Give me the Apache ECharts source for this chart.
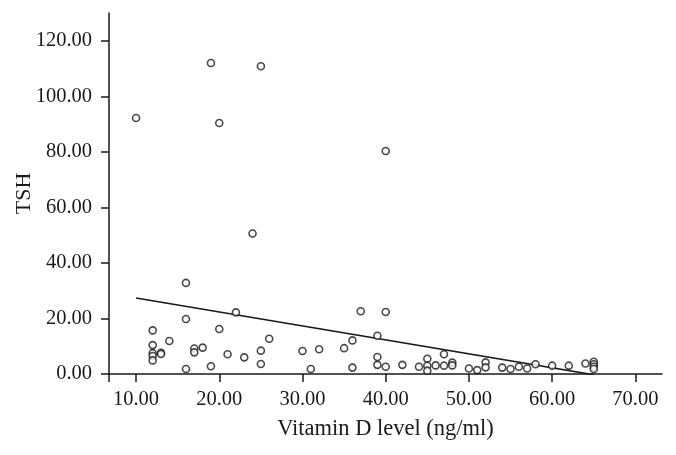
<!DOCTYPE html>
<html>
<head>
<meta charset="utf-8">
<script src="https://cdn.jsdelivr.net/npm/echarts@6/dist/echarts.min.js"></script>
<style>html,body{margin:0;padding:0;background:#fff}#c{width:676px;height:455px}</style>
</head>
<body>
<div id="c"></div>
<script>
// Vitamin D level (ng/ml) for each subject
const vitaminD = [10,12,12,12,12,12,13,13,14,16,16,16,17,17,18,19,19,20,20,21,22,23,24,25,25,25,26,
  30,31,32,35,36,36,37,39,39,39,40,40,40,42,44,45,45,45,46,47,47,48,48,50,51,52,52,54,55,56,57,58,
  60,62,64,65,65,65,65];
// TSH for each subject (same order)
const tsh = [92.2,15.7,10.4,7.5,6.5,4.9,7.6,7.2,11.9,32.8,19.8,1.8,9.2,7.8,9.5,112.0,2.8,90.4,16.2,7.1,22.2,6.0,50.6,110.8,8.4,3.6,12.7,
  8.3,1.8,8.9,9.3,12.1,2.3,22.6,13.8,6.1,3.3,80.3,22.3,2.6,3.3,2.6,5.5,3.0,1.2,3.1,7.1,3.0,4.1,3.1,2.0,1.4,4.2,2.4,2.3,1.8,2.6,2.0,3.5,
  3.0,3.0,3.8,4.4,3.5,2.6,1.8];
const xTicks = [10,20,30,40,50,60,70];
const yTicks = [0,20,40,60,80,100,120];

// least-squares fit line from the data
const n = vitaminD.length;
const mx = vitaminD.reduce((a,b)=>a+b,0)/n;
const my = tsh.reduce((a,b)=>a+b,0)/n;
let sxy = 0, sxx = 0;
for (let i=0;i<n;i++){ sxy += (vitaminD[i]-mx)*(tsh[i]-my); sxx += (vitaminD[i]-mx)**2; }
const slope = sxy/sxx, icpt = my - slope*mx;
const xLo = Math.min(...vitaminD), xHi = Math.max(...vitaminD);
const fit = [[xLo, icpt+slope*xLo],[xHi, icpt+slope*xHi]];

const XMIN = 6.75, XMAX = 73.2, YMIN = 0, YMAX = 130;
const font = '"Liberation Serif", "DejaVu Serif", serif';
const ink = '#1a1a1a';

const chart = echarts.init(document.getElementById('c'), null, {renderer:'canvas'});
chart.setOption({
  animation:false,
  backgroundColor:'#fff',
  grid:{left:109, right:14, top:13, bottom:81, containLabel:false, outerBoundsMode:'none'},
  xAxis:{
    type:'value', min:XMIN, max:XMAX,
    name:'Vitamin D level (ng/ml)', nameLocation:'middle', nameGap:44, nameMoveOverlap:false,
    nameTextStyle:{fontFamily:font, fontSize:22.5, color:ink},
    axisLine:{lineStyle:{color:ink, width:1.5}},
    axisTick:{show:true, length:8, lineStyle:{color:ink, width:1.5}, customValues:[XMIN].concat(xTicks)},
    axisLabel:{fontFamily:font, fontSize:20.5, color:ink, margin:15,
      customValues:xTicks, formatter:v=>v.toFixed(2)},
    splitLine:{show:false}
  },
  yAxis:{
    type:'value', min:YMIN, max:YMAX,
    name:'TSH', nameLocation:'middle', nameGap:74, nameRotate:90, nameMoveOverlap:false,
    nameTextStyle:{fontFamily:font, fontSize:22, color:ink},
    axisLine:{lineStyle:{color:ink, width:1.5}},
    axisTick:{show:true, length:8, lineStyle:{color:ink, width:1.5}, customValues:yTicks},
    axisLabel:{fontFamily:font, fontSize:20.5, color:ink, margin:17,
      customValues:yTicks, formatter:v=>v.toFixed(2)},
    splitLine:{show:false}
  },
  series:[
    {type:'line', data:fit, symbol:'none', clip:true, silent:true,
      lineStyle:{color:ink, width:1.5}, z:1},
    {type:'scatter', data:vitaminD.map((x,i)=>[x,tsh[i]]), symbol:'circle', symbolSize:7,
      itemStyle:{color:'#fff', borderColor:ink, borderWidth:1.6}, z:2}
  ]
});
</script>
</body>
</html>
